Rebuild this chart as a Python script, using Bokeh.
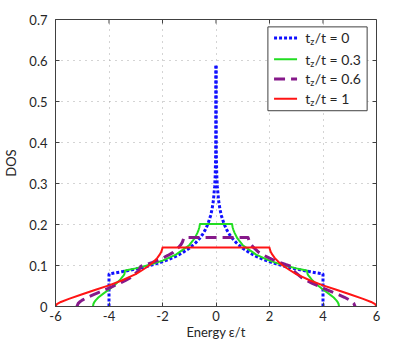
import math
from bokeh.plotting import figure
from bokeh.models import Range1d, FixedTicker
from bokeh.core.properties import value
from bokeh.embed import file_html
from bokeh.resources import INLINE

# ---------------- data ----------------
# t_z/t = 0  (2D square lattice)
energy_t0 = [-4.0, -4.0, -3.9, -3.75, -3.5, -3.25, -3.0, -2.75, -2.5, -2.25, -2.0, -1.75, -1.5,
             -1.25, -1.0, -0.75, -0.6, -0.5, -0.4, -0.3, -0.2, -0.15, -0.1, -0.05, -0.03, -0.01,
             -0.002, -0.0005, 0.0,
             0.0005, 0.002, 0.01, 0.03, 0.05, 0.1, 0.15, 0.2, 0.3, 0.4, 0.5, 0.6, 0.75, 1.0,
             1.25, 1.5, 1.75, 2.0, 2.25, 2.5, 2.75, 3.0, 3.25, 3.5, 3.75, 3.9, 4.0, 4.0]
dos_t0 = [0.0, 0.0796, 0.0806, 0.0822, 0.0850, 0.0881, 0.0914, 0.0951, 0.0993, 0.1040, 0.1093,
          0.1154, 0.1225, 0.1312, 0.1419, 0.1560, 0.1670, 0.1761, 0.1872, 0.2017, 0.2221, 0.2366,
          0.2571, 0.2922, 0.3180, 0.3738, 0.4550, 0.5250, 0.5870,
          0.5250, 0.4550, 0.3738, 0.3180, 0.2922, 0.2571, 0.2366, 0.2221, 0.2017, 0.1872, 0.1761,
          0.1670, 0.1560, 0.1419, 0.1312, 0.1225, 0.1154, 0.1093, 0.1040, 0.0993, 0.0951, 0.0914,
          0.0881, 0.0850, 0.0822, 0.0806, 0.0796, 0.0]

# t_z/t = 0.3
energy_t03 = [-4.6, -4.58, -4.55, -4.5, -4.4, -4.2, -4.0, -3.8, -3.6, -3.5, -3.45, -3.42, -3.4,
              -3.2, -3.0, -2.5, -2.0, -1.5, -1.0, -0.8, -0.7, -0.65, -0.62, -0.6,
              0.6, 0.62, 0.65, 0.7, 0.8, 1.0, 1.5, 2.0, 2.5, 3.0, 3.2,
              3.4, 3.42, 3.45, 3.5, 3.6, 3.8, 4.0, 4.2, 4.4, 4.5, 4.55, 4.58, 4.6]
dos_t03 = [0.0, 0.0066, 0.0105, 0.0150, 0.0218, 0.0320, 0.0415, 0.0520, 0.0640, 0.0720, 0.0760,
           0.0800, 0.0880, 0.0905, 0.0930, 0.1010, 0.1120, 0.1265, 0.1495, 0.1660, 0.1790, 0.1870,
           0.1935, 0.2015,
           0.2015, 0.1935, 0.1870, 0.1790, 0.1660, 0.1495, 0.1265, 0.1120, 0.1010, 0.0930, 0.0905,
           0.0880, 0.0800, 0.0760, 0.0720, 0.0640, 0.0520, 0.0415, 0.0320, 0.0218, 0.0150, 0.0105,
           0.0066, 0.0]

# t_z/t = 0.6
energy_t06 = [-5.2, -5.15, -5.1, -5.0, -4.8, -4.6, -4.4, -4.2, -4.0, -3.8, -3.6, -3.4, -3.2,
              -3.0, -2.9, -2.8, -2.6, -2.4, -2.2, -2.0, -1.8, -1.6, -1.4, -1.3, -1.25, -1.2,
              1.2, 1.25, 1.3, 1.4, 1.6, 1.8, 2.0, 2.2, 2.4, 2.6, 2.8,
              2.9, 3.0, 3.2, 3.4, 3.6, 3.8, 4.0, 4.2, 4.4, 4.6, 4.8, 5.0, 5.1, 5.15, 5.2]
dos_t06 = [0.0, 0.0076, 0.0108, 0.0155, 0.0225, 0.0285, 0.0340, 0.0395, 0.0450, 0.0510, 0.0565,
           0.0630, 0.0705, 0.0815, 0.0870, 0.0985, 0.1025, 0.1070, 0.1120, 0.1180, 0.1245, 0.1320,
           0.1440, 0.1520, 0.1580, 0.1680,
           0.1680, 0.1580, 0.1520, 0.1440, 0.1320, 0.1245, 0.1180, 0.1120, 0.1070, 0.1025, 0.0985,
           0.0870, 0.0815, 0.0705, 0.0630, 0.0565, 0.0510, 0.0450, 0.0395, 0.0340, 0.0285, 0.0225,
           0.0155, 0.0108, 0.0076, 0.0]

# t_z/t = 1  (simple cubic)
energy_t1 = [-6.0, -5.95, -5.8, -5.5, -5.0, -4.5, -4.0, -3.5, -3.25, -3.0, -2.75, -2.5, -2.35,
             -2.2, -2.1, -2.05, -2.02, -2.0,
             2.0, 2.02, 2.05, 2.1, 2.2, 2.35, 2.5, 2.75, 3.0, 3.25, 3.5, 4.0, 4.5, 5.0, 5.5,
             5.8, 5.95, 6.0]
dos_t1 = [0.0, 0.0055, 0.0110, 0.0185, 0.0300, 0.0410, 0.0515, 0.0640, 0.0715, 0.0790, 0.0890,
          0.1000, 0.1080, 0.1180, 0.1270, 0.1330, 0.1380, 0.1436,
          0.1436, 0.1380, 0.1330, 0.1270, 0.1180, 0.1080, 0.1000, 0.0890, 0.0790, 0.0715, 0.0640,
          0.0515, 0.0410, 0.0300, 0.0185, 0.0110, 0.0055, 0.0]

series_labels = ["0", "0.3", "0.6", "1"]
x_ticks = [-6, -4, -2, 0, 2, 4, 6]
y_ticks = [0.0, 0.1, 0.2, 0.3, 0.4, 0.5, 0.6, 0.7]
y_tick_labels = ["0", "0.1", "0.2", "0.3", "0.4", "0.5", "0.6", "0.7"]
x_tick_labels = ["-6", "-4", "-2", "0", "2", "4", "6"]

# ---------------- styling ----------------
FONT = "Lato"
TXT = "#262626"
FRAME = "#404040"
colors = ["#1010ff", "#22dd22", "#86198a", "#ff1414"]
widths = [3.0, 2.0, 3.0, 2.0]
dashes = ["3 2", "solid", "11 6", "solid"]
X0, X1, Y0, Y1 = -6, 6, 0, 0.7

p = figure(width=410, height=342, x_range=Range1d(X0, X1), y_range=Range1d(Y0, Y1),
           output_backend="svg", toolbar_location=None,
           min_border_left=48, min_border_right=34, min_border_top=19, min_border_bottom=35)
p.background_fill_color = "white"
p.border_fill_color = "white"
p.outline_line_color = FRAME
p.outline_line_width = 1

p.xaxis.ticker = FixedTicker(ticks=x_ticks)
p.yaxis.ticker = FixedTicker(ticks=y_ticks)
p.xaxis.major_label_overrides = {t: l for t, l in zip(x_ticks, x_tick_labels)}
p.yaxis.major_label_overrides = {t: l for t, l in zip(y_ticks, y_tick_labels)}
for ax in (p.xaxis[0], p.yaxis[0]):
    ax.major_tick_in = 4
    ax.major_tick_out = 0
    ax.minor_tick_line_color = None
    ax.axis_line_color = FRAME
    ax.major_tick_line_color = FRAME
    ax.major_label_text_font = FONT
    ax.major_label_text_font_size = "13px"
    ax.major_label_text_color = TXT
    ax.axis_label_text_font = FONT
    ax.axis_label_text_font_size = "13px"
    ax.axis_label_text_font_style = "normal"
    ax.axis_label_text_color = TXT
p.xaxis.axis_label = "Energy ε/t"
p.yaxis.axis_label = "DOS"
p.xaxis.major_label_standoff = 4
p.xaxis.axis_label_standoff = 0
p.yaxis.major_label_standoff = 8
p.yaxis.axis_label_standoff = 7

p.xgrid.ticker = FixedTicker(ticks=x_ticks)
p.ygrid.ticker = FixedTicker(ticks=y_ticks)
p.grid.grid_line_color = "#a8a8a8"
p.grid.grid_line_dash = "1 5"
p.grid.grid_line_width = 1

# inward ticks on the top and right edges of the box (clipped half of a dash marker)
p.scatter(x=x_ticks, y=[Y1] * len(x_ticks), marker="dash", size=8, angle=math.pi / 2,
          line_color=FRAME, line_width=1)
p.scatter(x=[X1] * len(y_ticks), y=y_ticks, marker="dash", size=8,
          line_color=FRAME, line_width=1)

series = [(energy_t0, dos_t0), (energy_t03, dos_t03), (energy_t06, dos_t06), (energy_t1, dos_t1)]
for i, ((xs, ys), c, w, d) in enumerate(zip(series, colors, widths, dashes)):
    if i == 0:
        # draw both flanks towards the peak so the dots of the spike coincide
        k = ys.index(max(ys))
        p.line(xs[:k + 1], ys[:k + 1], line_color=c, line_width=w, line_dash=d)
        p.line(xs[k:][::-1], ys[k:][::-1], line_color=c, line_width=w, line_dash=d)
    else:
        p.line(xs, ys, line_color=c, line_width=w, line_dash=d, line_join="round")

# ---------------- legend (drawn manually for the subscript) ----------------
box_l, box_r, box_b, box_t = 1.94, 5.65, 0.4775, 0.682
p.quad(left=[box_l], right=[box_r], bottom=[box_b], top=[box_t],
       fill_color="white", line_color=FRAME, line_width=1)
row_y = [0.655, 0.603, 0.555, 0.507]
sx0, sx1, tx = 2.17, 3.03, 3.34
for yy, c, w, d in zip(row_y, colors, widths, dashes):
    p.line([sx0, sx1], [yy, yy], line_color=c, line_width=w, line_dash=d)
p.text(x=[tx] * 4, y=row_y, text=["t"] * 4, text_font=value(FONT), text_font_size="14px",
       text_color=TXT, text_baseline="middle", text_align="left")
p.text(x=[tx] * 4, y=row_y, text=["z"] * 4, text_font=value(FONT), text_font_size="9px",
       text_color=TXT, text_baseline="middle", text_align="left", x_offset=4.8, y_offset=4)
p.text(x=[tx] * 4, y=row_y, text=["/t = " + s for s in series_labels], text_font=value(FONT),
       text_font_size="14px", text_color=TXT, text_baseline="middle", text_align="left",
       x_offset=9.5)

open("out.html", "w").write(file_html(p, INLINE))
